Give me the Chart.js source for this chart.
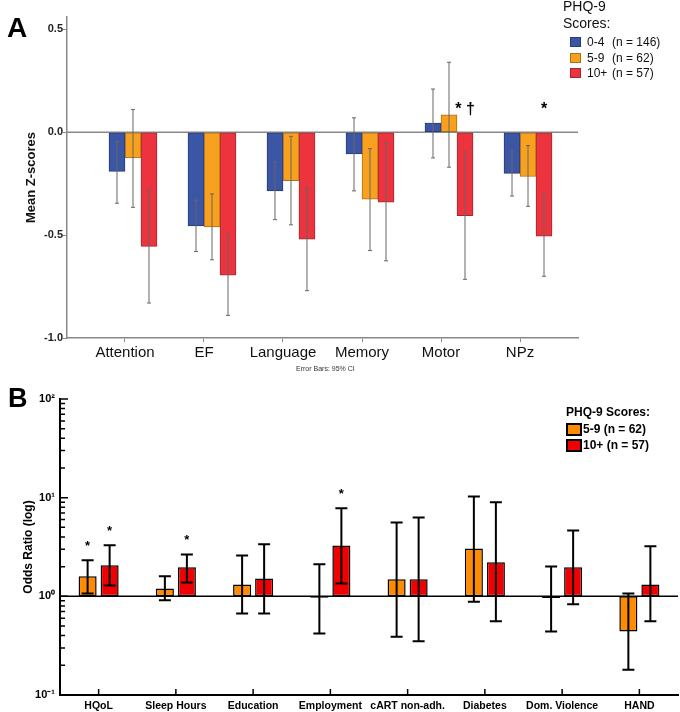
<!DOCTYPE html>
<html>
<head>
<meta charset="utf-8">
<title>PHQ-9 scores: neurocognition and odds ratios</title>
<script src="https://cdn.jsdelivr.net/npm/chart.js@4.4.1/dist/chart.umd.min.js"></script>
<style>
  body { margin: 0; background: #fff; font-family: "Liberation Sans", Arial, sans-serif; }
  #wrap { position: relative; width: 680px; height: 712px; overflow: hidden; }
  canvas { position: absolute; left: 0; }
  #chartA { top: 0; }
  #chartB { top: 370px; }
  .panel { position: absolute; font-weight: bold; line-height: 1; color: #000; }
  .legend { position: absolute; color: #111; }
  .row { display: flex; align-items: center; white-space: pre; }
  .sw { display: inline-block; box-sizing: border-box; }
  #note { position: absolute; left: 296px; top: 365px; font-size: 7px; line-height: 8px; color: #333; z-index: 2; }
</style>
</head>
<body>
<div id="wrap">
  <canvas id="chartA" width="680" height="370"></canvas>
  <canvas id="chartB" width="680" height="342"></canvas>
  <div class="panel" style="left:7px;top:14px;font-size:28px">A</div>
  <div class="panel" style="left:8px;top:385px;font-size:27px">B</div>
  <div id="note">Error Bars: 95% CI</div>
  <div class="legend" id="legendA" style="left:563px;top:-2px;font-size:14px">
    <div style="line-height:17px">PHQ-9<br>Scores:</div>
  </div>
  <div class="legend" id="legendB" style="left:566px;top:404px;font-size:12px;font-weight:bold;color:#000">
    <div style="line-height:16px">PHQ-9 Scores:</div>
  </div>
</div>
<script>
// ---- panel A: mean z-scores by PHQ-9 group ----
const domains = ['Attention', 'EF', 'Language', 'Memory', 'Motor', 'NPz'];
const groupsA = ['0-4', '5-9', '10+'];
const groupsA_n = ['(n = 146)', '(n = 62)', '(n = 57)'];

const meanLow  = [-0.19, -0.455, -0.285, -0.105, 0.045, -0.20];
const loLow    = [-0.345, -0.58, -0.425, -0.285, -0.125, -0.31];
const hiLow    = [-0.045, -0.33, -0.145, 0.07, 0.21, -0.09];

const meanMid  = [-0.125, -0.46, -0.235, -0.325, 0.085, -0.215];
const loMid    = [-0.365, -0.62, -0.45, -0.575, -0.17, -0.36];
const hiMid    = [0.11, -0.30, -0.02, -0.08, 0.34, -0.065];

const meanHigh = [-0.555, -0.695, -0.52, -0.34, -0.405, -0.505];
const loHigh   = [-0.83, -0.89, -0.77, -0.625, -0.715, -0.70];
const hiHigh   = [-0.28, -0.495, -0.27, -0.05, -0.095, -0.30];
const sigA     = ['', '', '', '', '* \u2020', '*'];

const zTicks = [-1.0, -0.5, 0.0, 0.5];

// ---- panel B: odds ratios vs 0-4 group ----
const predictors = ['HQoL', 'Sleep Hours', 'Education', 'Employment', 'cART non-adh.', 'Diabetes', 'Dom. Violence', 'HAND'];
const groupsB = ['5-9 (n = 62)', '10+ (n = 57)'];

const orMid    = [1.6, 1.2, 1.32, 0.97, 1.49, 3.06, 0.96, 0.44];
const orMidLo  = [1.07, 0.91, 0.67, 0.42, 0.39, 0.88, 0.44, 0.18];
const orMidHi  = [2.32, 1.6, 2.6, 2.12, 5.6, 10.3, 2.01, 1.07];
const sigMid   = ['*', '', '', '', '', '', '', ''];

const orHigh   = [2.06, 1.97, 1.52, 3.27, 1.49, 2.21, 1.97, 1.32];
const orHighLo = [1.29, 1.38, 0.67, 1.35, 0.35, 0.56, 0.83, 0.56];
const orHighHi = [3.29, 2.66, 3.37, 7.8, 6.3, 8.96, 4.66, 3.21];
const sigHigh  = ['*', '*', '', '*', '', '', '', ''];

const orTicks = [0.1, 1, 10, 100];
const orTickLabels = ['10\u207B\u00B9', '10\u2070', '10\u00B9', '10\u00B2'];

// colours
const fillA = ['rgb(60,86,166)', 'rgb(248,161,30)', 'rgb(237,52,62)'];
const edgeA = ['rgb(40,58,120)', 'rgb(170,110,30)', 'rgb(160,40,48)'];
const fillB = ['rgb(255,140,0)', 'rgb(240,0,0)'];

Chart.defaults.font.family = '"Liberation Sans", Arial, sans-serif';
Chart.defaults.color = '#000';
Chart.defaults.animation = false;

// error bars + significance marks, drawn from dataset errLo/errHi
const errorBars = {
  id: 'errorBars',
  afterDatasetsDraw(chart, args, opts) {
    const {ctx} = chart;
    const y = chart.scales.y;
    ctx.save();
    ctx.strokeStyle = opts.color;
    ctx.lineWidth = opts.width;
    chart.data.datasets.forEach((ds, di) => {
      if (!ds.errLo) return;
      chart.getDatasetMeta(di).data.forEach((bar, i) => {
        const top = y.getPixelForValue(ds.errHi[i]);
        const bot = y.getPixelForValue(ds.errLo[i]);
        ctx.beginPath();
        ctx.moveTo(bar.x, top); ctx.lineTo(bar.x, bot);
        ctx.moveTo(bar.x - opts.cap, top); ctx.lineTo(bar.x + opts.cap, top);
        ctx.moveTo(bar.x - opts.cap, bot); ctx.lineTo(bar.x + opts.cap, bot);
        ctx.stroke();
        if (ds.marks && ds.marks[i]) {
          ctx.fillStyle = '#000';
          ctx.font = opts.markFont;
          ctx.textAlign = 'center';
          ctx.textBaseline = 'alphabetic';
          const my = opts.markLevel !== undefined ? y.getPixelForValue(opts.markLevel) : top - opts.markGap;
          ctx.fillText(ds.marks[i], bar.x, my);
        }
      });
    });
    ctx.restore();
  }
};

// horizontal reference line (0 for z, 1 for odds)
const refLine = {
  id: 'refLine',
  beforeDatasetsDraw(chart, args, opts) {
    const {ctx, chartArea} = chart;
    const py = chart.scales.y.getPixelForValue(opts.value);
    ctx.save();
    ctx.strokeStyle = opts.color;
    ctx.lineWidth = opts.width;
    ctx.beginPath();
    ctx.moveTo(chartArea.left, py);
    ctx.lineTo(chartArea.right, py);
    ctx.stroke();
    ctx.restore();
  }
};

// inward ticks for panel B (log minor ticks too)
const inwardTicks = {
  id: 'inwardTicks',
  afterDraw(chart) {
    const {ctx, chartArea, scales} = chart;
    ctx.save();
    ctx.strokeStyle = '#000';
    ctx.lineWidth = 1.5;
    ctx.beginPath();
    orTicks.forEach((d, k) => {
      const py = scales.y.getPixelForValue(d);
      ctx.moveTo(chartArea.left, py); ctx.lineTo(chartArea.left + 8, py);
      if (k === orTicks.length - 1) return;
      for (let m = 2; m < 10; m++) {
        const my = scales.y.getPixelForValue(d * m);
        ctx.moveTo(chartArea.left, my); ctx.lineTo(chartArea.left + 5, my);
      }
    });
    predictors.forEach((p, i) => {
      const px = scales.x.getPixelForValue(i);
      ctx.moveTo(px, chartArea.bottom); ctx.lineTo(px, chartArea.bottom - 6);
    });
    ctx.stroke();
    ctx.restore();
  }
};

function pts(vals) {
  return vals.map((v, i) => ({x: i, y: v}));
}

new Chart(document.getElementById('chartA'), {
  type: 'bar',
  data: {
    datasets: [
      // empty slot so the cluster sits right of the tick, as in the original
      {label: '', data: []},
      {label: groupsA[0], data: pts(meanLow), errLo: loLow, errHi: hiLow,
       backgroundColor: fillA[0], borderColor: edgeA[0]},
      {label: groupsA[1], data: pts(meanMid), errLo: loMid, errHi: hiMid,
       backgroundColor: fillA[1], borderColor: edgeA[1]},
      {label: groupsA[2], data: pts(meanHigh), errLo: loHigh, errHi: hiHigh, marks: sigA,
       backgroundColor: fillA[2], borderColor: edgeA[2]}
    ]
  },
  options: {
    responsive: false,
    layout: {padding: {top: 17, right: 102, left: 0, bottom: 0}},
    datasets: {bar: {barThickness: 16, borderWidth: 1, borderSkipped: false}},
    scales: {
      x: {
        type: 'linear',
        offset: false,
        min: -0.734, max: 5.734,
        afterBuildTicks: s => { s.ticks = domains.map((d, i) => ({value: i})); },
        afterFit: s => { s.height = 32; },
        grid: {drawOnChartArea: false, offset: false, tickLength: 4, color: '#888'},
        border: {color: '#888', width: 1.5},
        ticks: {
          callback: v => domains[v],
          font: {size: 15}, color: '#111', padding: 2,
          maxRotation: 0, autoSkip: false
        }
      },
      y: {
        min: -1, max: 0.56,
        afterBuildTicks: s => { s.ticks = zTicks.map(v => ({value: v})); },
        afterFit: s => { s.width = 67; },
        grid: {drawOnChartArea: false, tickLength: 4, color: '#888'},
        border: {color: '#888', width: 1.5},
        ticks: {callback: v => v.toFixed(1), font: {size: 11, weight: 'bold'}, color: '#222', padding: 0},
        title: {display: true, text: 'Mean Z-scores', font: {size: 13, weight: 'bold'},
                color: '#111', padding: {top: 24, bottom: 0}}
      }
    },
    plugins: {
      legend: {display: false},
      tooltip: {enabled: false},
      refLine: {value: 0, color: '#888', width: 1.5},
      errorBars: {color: '#666', width: 1, cap: 2, markFont: 'bold 16px "Liberation Sans", Arial',
                  markLevel: 0.09}
    }
  },
  plugins: [refLine, errorBars]
});

new Chart(document.getElementById('chartB'), {
  type: 'bar',
  data: {
    labels: predictors,
    datasets: [
      {label: groupsB[0], data: orMid, errLo: orMidLo, errHi: orMidHi, marks: sigMid,
       backgroundColor: fillB[0]},
      {label: groupsB[1], data: orHigh, errLo: orHighLo, errHi: orHighHi, marks: sigHigh,
       backgroundColor: fillB[1]}
    ]
  },
  options: {
    responsive: false,
    layout: {padding: {top: 29, right: 2, left: 0, bottom: 0}},
    datasets: {bar: {base: 1, borderColor: '#000', borderWidth: 1.5, borderSkipped: false,
                     categoryPercentage: 0.57, barPercentage: 0.82}},
    scales: {
      x: {
        afterFit: s => { s.height = 17; },
        grid: {display: false, drawTicks: false},
        border: {color: '#000', width: 2},
        ticks: {font: {size: 10.5, weight: 'bold'}, color: '#000', padding: 5,
                maxRotation: 0, autoSkip: false}
      },
      y: {
        type: 'logarithmic',
        min: 0.1, max: 100,
        afterBuildTicks: s => { s.ticks = orTicks.map(v => ({value: v, major: true})); },
        afterFit: s => { s.width = 60; },
        grid: {display: false, drawTicks: false},
        border: {color: '#000', width: 2},
        ticks: {callback: (v, i) => orTickLabels[i], font: {size: 11, weight: 'bold'},
                color: '#000', padding: 5, autoSkip: false},
        title: {display: true, text: 'Odds Ratio (log)', font: {size: 12, weight: 'bold'},
                color: '#000', padding: {top: 21, bottom: 0}}
      }
    },
    plugins: {
      legend: {display: false},
      tooltip: {enabled: false},
      refLine: {value: 1, color: '#000', width: 1.5},
      errorBars: {color: '#000', width: 2, cap: 6, markFont: 'bold 13px "Liberation Sans", Arial',
                  markGap: 10}
    }
  },
  plugins: [refLine, errorBars, inwardTicks]
});

// html legends built from the same labels / colours
function legendRows(el, labels, extra, fills, edges, sw, gap, rowH, firstGap) {
  labels.forEach((lab, i) => {
    const row = document.createElement('div');
    row.className = 'row';
    row.style.height = rowH + 'px';
    if (i === 0) row.style.marginTop = firstGap + 'px';
    row.style.paddingLeft = sw.indent + 'px';
    const box = document.createElement('span');
    box.className = 'sw';
    box.style.width = sw.w + 'px';
    box.style.height = sw.h + 'px';
    box.style.background = fills[i];
    box.style.border = sw.border + 'px solid ' + edges[i];
    box.style.marginRight = gap + 'px';
    row.appendChild(box);
    const t = document.createElement('span');
    t.textContent = lab;
    if (extra) { t.style.width = '25px'; t.style.display = 'inline-block'; }
    row.appendChild(t);
    if (extra) {
      const n = document.createElement('span');
      n.textContent = extra[i];
      row.appendChild(n);
    }
    el.appendChild(row);
  });
}
const legA = document.getElementById('legendA');
legendRows(legA, groupsA, groupsA_n, fillA, edgeA,
           {w: 11, h: 10, border: 1, indent: 7}, 6, 15.5, 2.25);
legA.querySelectorAll('.row').forEach(r => { r.style.fontSize = '12px'; });
legendRows(document.getElementById('legendB'), groupsB, null, fillB, ['#000', '#000'],
           {w: 16, h: 13, border: 2, indent: 0}, 1, 16, 1);
</script>
</body>
</html>
